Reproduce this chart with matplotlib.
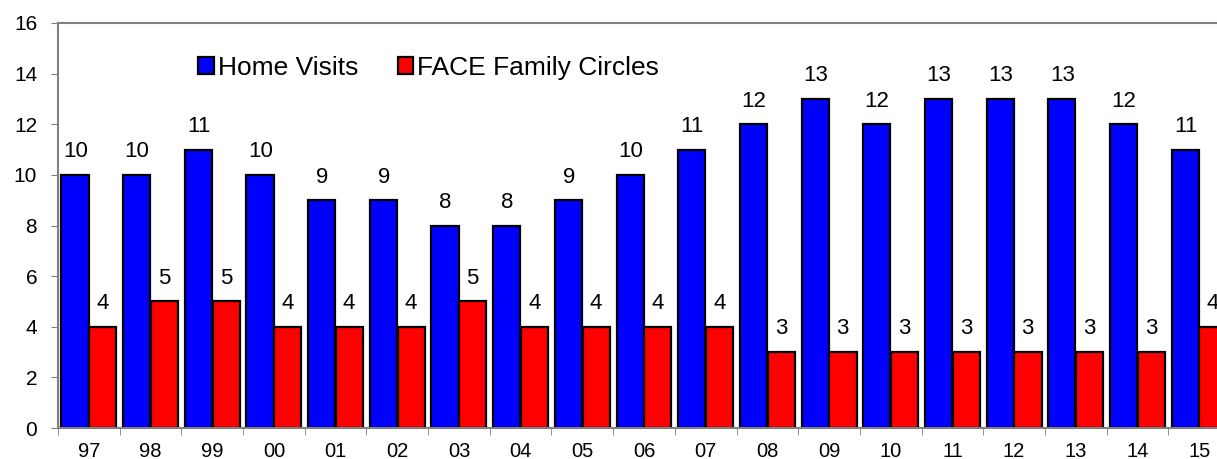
import matplotlib.pyplot as plt
import numpy as np
from matplotlib.patches import Patch

plt.rcParams['font.family'] = ['Liberation Sans', 'DejaVu Sans']

years = ["97", "98", "99", "00", "01", "02", "03", "04", "05", "06",
         "07", "08", "09", "10", "11", "12", "13", "14", "15"]
home_visits = [10, 10, 11, 10, 9, 9, 8, 8, 9, 10, 11, 12, 13, 12, 13, 13, 13, 12, 11]
face_circles = [4, 5, 5, 4, 4, 4, 5, 4, 4, 4, 4, 3, 3, 3, 3, 3, 3, 3, 4]

fig = plt.figure(figsize=(12.17, 4.59), dpi=100)
# axes runs a little past the right edge, like the cropped original
ax = fig.add_axes([58 / 1217, 31 / 459, 1172 / 1217, 405 / 459])

x = np.arange(len(years))
w = 0.44
ax.bar(x - w / 2 - 0.005, home_visits, w, color="#0000ff", edgecolor="black", linewidth=1.6)
ax.bar(x + w / 2 + 0.005, face_circles, w, color="#ff0000", edgecolor="black", linewidth=1.6)

for i in x:
    ax.text(i - w / 2, home_visits[i] + 0.5, str(home_visits[i]), ha="center", va="bottom", fontsize=16)
    ax.text(i + w / 2, face_circles[i] + 0.5, str(face_circles[i]), ha="center", va="bottom", fontsize=16)

ax.set_xlim(-0.5, len(years) - 0.5)
ax.set_ylim(0, 16)
ax.set_yticks(range(0, 17, 2))
ax.tick_params(axis="y", labelsize=15, length=5, color="#808080", direction="out", pad=10)
ax.set_xticks(x)
ax.set_xticklabels(years)
ax.set_xticks(np.arange(-0.5, len(years), 1), minor=True)
ax.tick_params(axis="x", which="major", length=0, labelsize=14.5, pad=10)
ax.tick_params(axis="x", which="minor", length=5, color="#808080")

for s in ["left", "bottom", "top"]:
    ax.spines[s].set_color("#808080")
    ax.spines[s].set_linewidth(1.5)
ax.spines["right"].set_visible(False)

handles = [Patch(facecolor="#0000ff", edgecolor="black", linewidth=1.6, label="Home Visits"),
           Patch(facecolor="#ff0000", edgecolor="black", linewidth=1.6, label="FACE Family Circles")]
ax.legend(handles=handles, loc="center left", bbox_to_anchor=(0.108, 0.89), ncol=2, frameon=False,
          fontsize=19, handlelength=0.6, handleheight=0.6, handletextpad=0.15, columnspacing=1.5,
          borderpad=0)

fig.savefig("out.png", dpi=100)
